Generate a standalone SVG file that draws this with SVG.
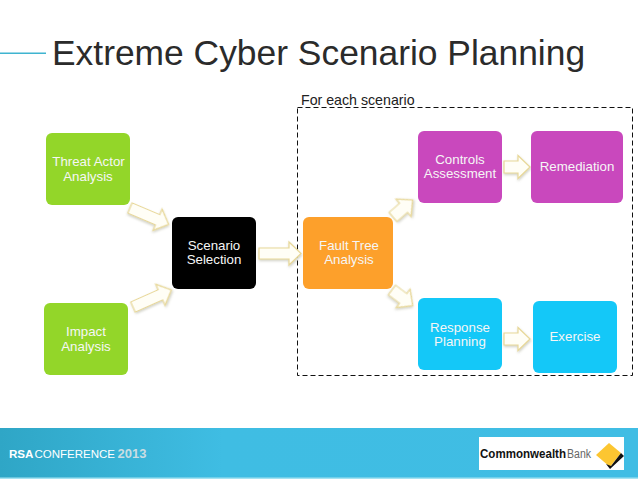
<svg xmlns="http://www.w3.org/2000/svg" width="638" height="479" viewBox="0 0 638 479">
<style>
text{font-family:"Liberation Sans",Arial,sans-serif}
.l{font-size:13.300px;fill:#f6f6f6;text-anchor:middle}
.a{fill:#fffef6;stroke:#e8d898;stroke-width:1.200;filter:url(#sh)}
</style>
<defs>
<linearGradient id="band" x1="0" x2="1" y1="0" y2="0"><stop offset="0" stop-color="#2fa6c6"/><stop offset=".35" stop-color="#3fbde3"/><stop offset="1" stop-color="#40bde4"/></linearGradient>
<filter id="sh" x="-30%" y="-30%" width="160%" height="160%"><feDropShadow dx="0.500" dy="1.500" stdDeviation="1.200" flood-color="#8a8a70" flood-opacity=".4"/></filter>
<path id="long" d="M0,-5.500H30V-11.500L42,0L30,11.500V5.500H0Z"/>
<path id="short" d="M0,-6H14V-11.500L26,0L14,11.500V6H0Z"/>
</defs>
<rect width="638" height="479" fill="#fff"/>
<rect x="0" y="52.500" width="46" height="1.500" fill="#3fb4d0"/>
<text x="52" y="65" font-size="35.400" fill="#2b2b2b">Extreme Cyber Scenario Planning</text>
<g id="scenario-box">
<rect x="297.500" y="107.500" width="335" height="268" fill="none" stroke="#111" stroke-width="1" stroke-dasharray="5 3"/>
<text x="301" y="105" font-size="14.200" fill="#222">For each scenario</text>
</g>
<g id="connectors">
<use href="#long" class="a" transform="translate(130,208) rotate(23)"/>
<use href="#long" class="a" transform="translate(133,307) rotate(-24)"/>
<use href="#long" class="a" transform="translate(259,253.500)"/>
<use href="#short" class="a" transform="translate(393,217) rotate(-41)"/>
<use href="#short" class="a" transform="translate(392,290) rotate(37)"/>
<use href="#short" class="a" transform="translate(504,167)"/>
<use href="#short" class="a" transform="translate(504,339)"/>
</g>
<g id="threat"><rect x="46" y="133" width="84" height="72" rx="6" fill="#93d629"/><text class="l" x="88.500" y="166">Threat Actor</text><text class="l" x="88" y="181">Analysis</text></g>
<g id="impact"><rect x="44" y="303" width="84" height="72" rx="6" fill="#93d629"/><text class="l" x="86" y="336">Impact</text><text class="l" x="86" y="351">Analysis</text></g>
<g id="selection"><rect x="172" y="217" width="84" height="72" rx="6" fill="#000"/><text class="l" x="214" y="250">Scenario</text><text class="l" x="214" y="264">Selection</text></g>
<g id="fault"><rect x="303" y="217" width="90" height="72" rx="6" fill="#fda02b"/><text class="l" x="349" y="250">Fault Tree</text><text class="l" x="349" y="264">Analysis</text></g>
<g id="controls"><rect x="418" y="131" width="84" height="72" rx="6" fill="#c948bd"/><text class="l" x="460" y="164">Controls</text><text class="l" x="460" y="178">Assessment</text></g>
<g id="remediation"><rect x="531" y="131" width="92" height="72" rx="6" fill="#c948bd"/><text class="l" x="577" y="171">Remediation</text></g>
<g id="response"><rect x="418" y="298" width="84" height="72" rx="6" fill="#14c8f8"/><text class="l" x="460" y="332">Response</text><text class="l" x="460" y="346">Planning</text></g>
<g id="exercise"><rect x="533" y="301" width="84" height="72" rx="6" fill="#14c8f8"/><text class="l" x="575" y="341">Exercise</text></g>
<g id="footer">
<rect x="0" y="428" width="638" height="50" fill="url(#band)"/>
<rect x="0" y="477.500" width="638" height="1.500" fill="#a5e3f2"/>
<text x="9" y="458" font-size="11.600" font-weight="bold" fill="#fff">RSA</text>
<text x="34.500" y="458" font-size="11.500" fill="#fff">CONFERENCE</text>
<text x="117.500" y="458" font-size="13" font-weight="bold" fill="#c9dde3">2013</text>
<rect x="479" y="437" width="145" height="33" fill="#fff"/>
<text x="480" y="457.500" font-size="12" font-weight="bold" fill="#111" textLength="86" lengthAdjust="spacingAndGlyphs">Commonwealth</text>
<text x="567" y="457.500" font-size="12" fill="#666" textLength="24" lengthAdjust="spacingAndGlyphs">Bank</text>
<path d="M609,443L621,453L610,467L596,455Z" fill="#fcc631"/>
<path d="M621,453L624,456L610,469L606,464L611,466Z" fill="#111"/>
</g>
</svg>
